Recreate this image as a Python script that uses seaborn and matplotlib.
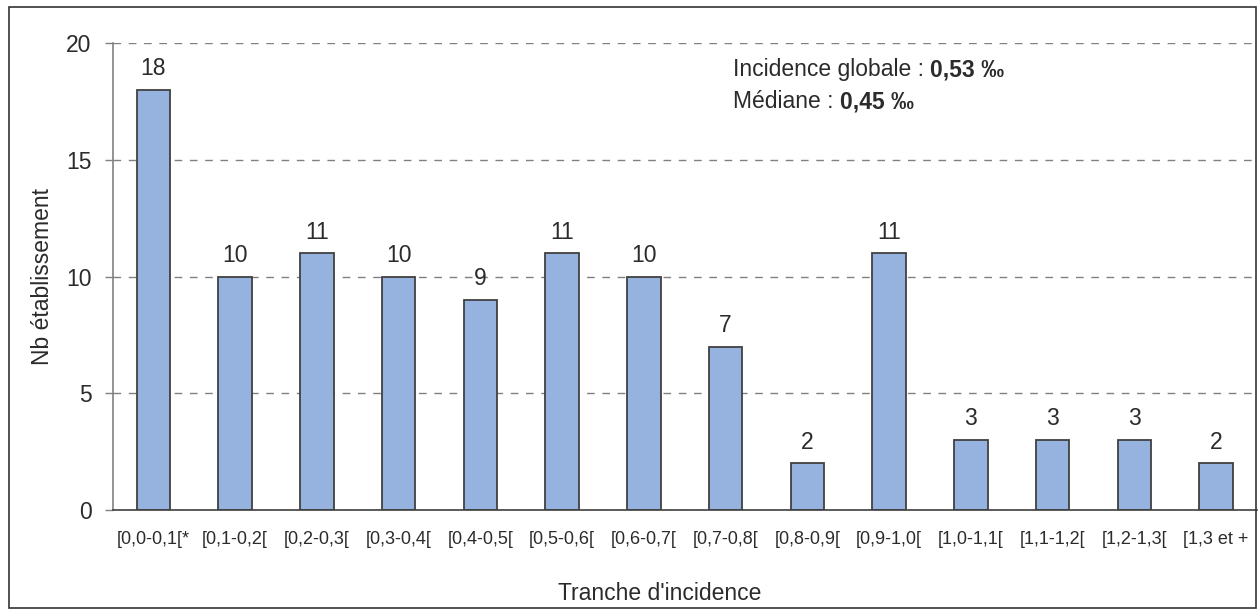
import matplotlib
matplotlib.use("Agg")
import matplotlib.pyplot as plt
from matplotlib.patches import Rectangle
import seaborn as sns
import pandas as pd

# Number of establishments per incidence bracket
tranches = ["[0,0-0,1[*", "[0,1-0,2[", "[0,2-0,3[", "[0,3-0,4[", "[0,4-0,5[",
            "[0,5-0,6[", "[0,6-0,7[", "[0,7-0,8[", "[0,8-0,9[", "[0,9-1,0[",
            "[1,0-1,1[", "[1,1-1,2[", "[1,2-1,3[", "[1,3 et +"]
nb_etab = [18, 10, 11, 10, 9, 11, 10, 7, 2, 11, 3, 3, 3, 2]
y_ticks = [0, 5, 10, 15, 20]
incidence_globale = "0,53 ‰"
mediane = "0,45 ‰"

df = pd.DataFrame({"tranche": tranches, "nb": nb_etab})

sns.set_theme(style="white")
plt.rcParams["font.family"] = ["Liberation Sans", "DejaVu Sans"]
txt = "#2b2b2b"

W, H = 1260, 610
fig = plt.figure(figsize=(W / 100, H / 100), dpi=100)
ax = fig.add_axes([0.0893, 0.1639, 0.9083, 0.7651])

sns.barplot(data=df, x="tranche", y="nb", ax=ax, color="#95B3DE",
            saturation=1, width=0.41, edgecolor="#404040", linewidth=1.3,
            zorder=3)

ax.set_ylim(0, 20)
ax.set_xlim(-0.5, len(tranches) - 0.5)
ax.set_yticks(y_ticks)
ax.set_yticklabels([str(v) for v in y_ticks], fontsize=16.5, color=txt)
ax.tick_params(axis="y", length=6, width=1, color="#808080", pad=9, left=True)
ax.tick_params(axis="x", length=0, pad=15, labelsize=13, labelcolor=txt)

ax.yaxis.grid(True, linestyle=(0, (5.5, 5.5)), color="#808080", linewidth=1, zorder=0)
ax.xaxis.grid(False)

for side in ["top", "right"]:
    ax.spines[side].set_visible(False)
ax.spines["left"].set_color("#808080")
ax.spines["left"].set_linewidth(1.2)
ax.spines["bottom"].set_color("#404040")
ax.spines["bottom"].set_linewidth(1.2)
ax.spines["bottom"].set_zorder(4)

for i, v in enumerate(nb_etab):
    ax.annotate(str(v), (i, v), xytext=(0, 7), textcoords="offset points",
                ha="center", va="bottom", fontsize=16.5, color=txt)

ax.set_ylabel("Nb établissement", fontsize=16.5, color=txt, labelpad=9)
ax.set_xlabel("")
fig.text(660 / W, 1 - 593 / H, "Tranche d'incidence", ha="center",
         va="center", fontsize=16.5, color=txt)

# Summary statistics, with the values in bold
fig.canvas.draw()
renderer = fig.canvas.get_renderer()


def summary_line(x_px, y_px, label, value):
    t = fig.text(x_px / W, 1 - y_px / H, label, ha="left", va="baseline",
                 fontsize=16.5, color=txt)
    bb = t.get_window_extent(renderer=renderer)
    fig.text(bb.x1 / W, 1 - y_px / H, value, ha="left", va="baseline",
             fontsize=16.5, color=txt, fontweight="bold")


summary_line(733, 76, "Incidence globale : ", incidence_globale)
summary_line(733, 108, "Médiane : ", mediane)

# Outer chart frame
fig.add_artist(Rectangle((9 / W, 1 - 608 / H), 1247 / W, 601 / H,
                         transform=fig.transFigure, fill=False,
                         edgecolor="#333333", linewidth=1.2))

fig.savefig("out.png", dpi=100)
